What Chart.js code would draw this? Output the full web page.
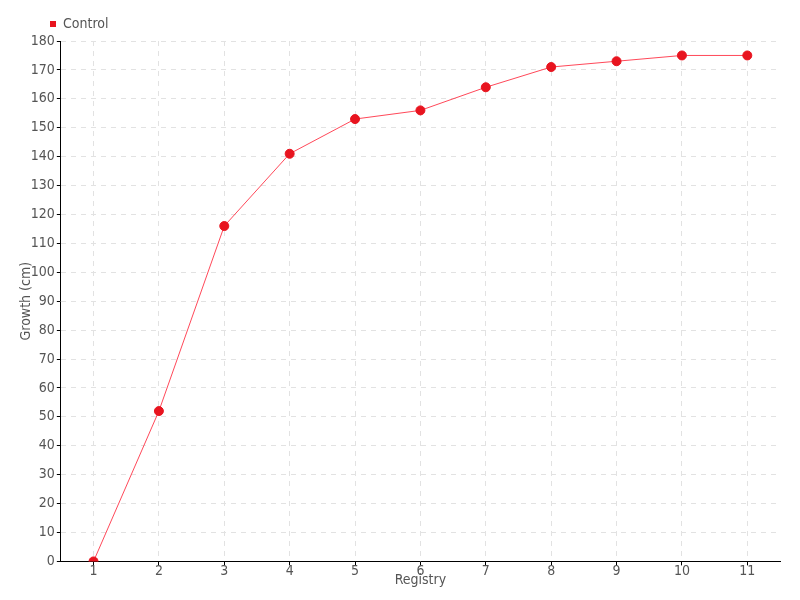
<!DOCTYPE html>
<html>
<head>
<meta charset="utf-8">
<script src="https://cdn.jsdelivr.net/npm/chart.js@4"></script>
<style>
  body { margin: 0; background: #fff; }
</style>
</head>
<body>
<canvas id="growthChart" width="800" height="600"></canvas>
<script>
const registries = ['1', '2', '3', '4', '5', '6', '7', '8', '9', '10', '11'];
const controlGrowth = [0, 52, 116, 141, 153, 156, 164, 171, 173, 175, 175];

Chart.defaults.font.family = "'DejaVu Sans Condensed', 'Liberation Sans Narrow', sans-serif";
Chart.defaults.font.size = 14;
Chart.defaults.color = '#555';

// move the legend over so it starts near the plot's left edge
const legendShift = {
    id: 'legendShift',
    beforeDraw(c) {
        if (c.legend) {
            const w = c.legend.right - c.legend.left;
            c.legend.left = 46;
            c.legend.right = 46 + w;
        }
    }
};

const ctx = document.getElementById('growthChart').getContext('2d');
const chart = new Chart(ctx, {
    type: 'line',
    data: {
        labels: registries,
        datasets: [{
            label: 'Control',
            data: controlGrowth,
            borderColor: 'rgba(255, 40, 60, 0.85)',
            borderWidth: 1,
            backgroundColor: '#e8141f',
            pointBackgroundColor: '#e8141f',
            pointBorderColor: '#e8141f',
            pointRadius: 4.5,
            pointBorderWidth: 1,
            tension: 0
        }]
    },
    options: {
        responsive: false,
        animation: false,
        layout: { padding: { left: 18, right: 20, top: 13, bottom: 11 } },
        plugins: {
            legend: {
                position: 'top',
                align: 'start',
                labels: {
                    boxWidth: 6,
                    boxHeight: 6,
                    padding: 4,
                    generateLabels: (c) => [{
                        text: 'Control',
                        fillStyle: '#e8141f',
                        strokeStyle: '#e8141f',
                        lineWidth: 0,
                        fontColor: '#555'
                    }]
                }
            },
            tooltip: { enabled: false }
        },
        scales: {
            x: {
                offset: true,
                grid: {
                    offset: false,
                    color: '#e2e2e2',
                    tickColor: '#000',
                    tickLength: 4,
                    tickBorderDash: []
                },
                border: { color: '#000', width: 1, dash: [5, 5] },
                title: { display: true, text: 'Registry', padding: { top: -6, bottom: 0 } },
                ticks: { padding: -2 }
            },
            y: {
                min: 0,
                max: 180,
                ticks: { stepSize: 10, padding: 2 },
                grid: {
                    color: '#e2e2e2',
                    tickColor: '#000',
                    tickLength: 4,
                    tickBorderDash: []
                },
                border: { color: '#000', width: 1, dash: [5, 5] },
                title: { display: true, text: 'Growth (cm)', padding: { top: 0, bottom: -6 } }
            }
        }
    },
    plugins: [legendShift]
});
</script>
</body>
</html>
